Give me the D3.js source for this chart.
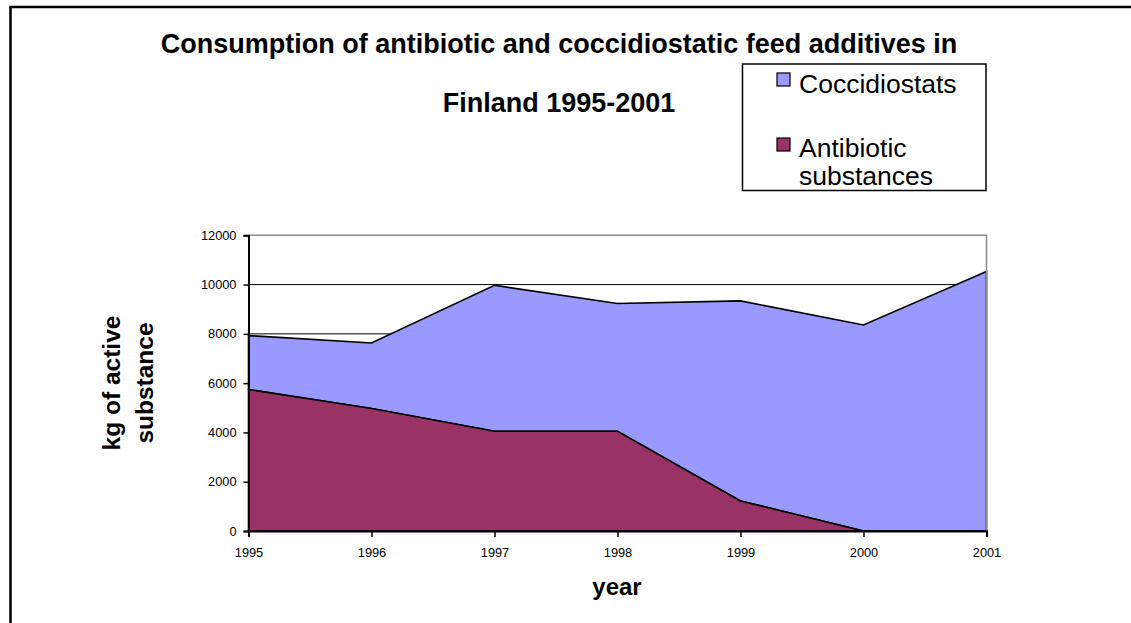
<!DOCTYPE html>
<html>
<head>
<meta charset="utf-8">
<script src="https://cdn.jsdelivr.net/npm/d3@7"></script>
<style>
  html, body { margin: 0; padding: 0; background: #fff; }
  svg { display: block; font-family: "Liberation Sans", Arial, sans-serif; }
</style>
</head>
<body>
<svg id="chart" width="1131" height="623"></svg>
<script>
// Feed additive consumption in Finland, kg of active substance
const years = [1995, 1996, 1997, 1998, 1999, 2000, 2001];
const antibiotic = [5740, 4970, 4050, 4050, 1220, 0, 0];
const coccidiostats = [2190, 2660, 5920, 5180, 8120, 8360, 10530];
const yTicks = [0, 2000, 4000, 6000, 8000, 10000, 12000];
const seriesNames = ["Coccidiostats", "Antibiotic substances"];
const seriesColors = { antibiotic: "#993366", coccidiostats: "#9999ff" };

const svg = d3.select("#chart");

// outer chart frame
svg.append("rect")
  .attr("x", 10.5).attr("y", 7).attr("width", 1200).attr("height", 700)
  .attr("fill", "none").attr("stroke", "#000").attr("stroke-width", 2.5);

const plot = { left: 248.5, right: 986.5, top: 235.3, bottom: 531 };

const x = d3.scaleLinear().domain([years[0], years[years.length - 1]]).range([plot.left, plot.right]);
const y = d3.scaleLinear().domain([0, 12000]).range([plot.bottom, plot.top]);

// gridlines
svg.append("g")
  .selectAll("line")
  .data(yTicks.filter(t => t > 0 && t < 12000))
  .join("line")
  .attr("x1", plot.left).attr("x2", plot.right)
  .attr("y1", d => y(d)).attr("y2", d => y(d))
  .attr("stroke", "#000").attr("stroke-width", 1);

// stacked areas
const rows = years.map((yr, i) => ({ year: yr, antibiotic: antibiotic[i], coccidiostats: coccidiostats[i] }));
const stack = d3.stack().keys(["antibiotic", "coccidiostats"]);
const layers = stack(rows);

const area = d3.area()
  .x(d => x(d.data.year))
  .y0(d => y(d[0]))
  .y1(d => y(d[1]));

// upper layer first so the lower one's outline sits on top
svg.append("g")
  .selectAll("path")
  .data(layers.slice().reverse())
  .join("path")
  .attr("d", area)
  .attr("fill", d => seriesColors[d.key])
  .attr("stroke", "#000")
  .attr("stroke-width", 1.6)
  .attr("stroke-linejoin", "miter");

// plot area border (top and right)
svg.append("path")
  .attr("d", `M${plot.left},${plot.top}H${plot.right}V${plot.bottom}`)
  .attr("fill", "none").attr("stroke", "#8c8c8c").attr("stroke-width", 1.5);

// y axis
const yAxis = d3.axisLeft(y).tickValues(yTicks).tickSize(5).tickPadding(7).tickFormat(d3.format("d"));
const gy = svg.append("g").attr("transform", `translate(${plot.left},0)`).call(yAxis);
gy.select(".domain").attr("stroke", "#000").attr("stroke-width", 2);
gy.selectAll(".tick line").attr("stroke", "#000").attr("stroke-width", 1.5);
gy.selectAll("text").attr("font-size", 12.8).attr("font-family", "Liberation Sans, Arial, sans-serif").attr("fill", "#000");

// x axis
const xAxis = d3.axisBottom(x).tickValues(years).tickSize(6).tickPadding(11).tickFormat(d3.format("d"));
const gx = svg.append("g").attr("transform", `translate(0,${plot.bottom})`).call(xAxis);
gx.select(".domain").attr("stroke", "#000").attr("stroke-width", 2);
gx.selectAll(".tick line").attr("stroke", "#000").attr("stroke-width", 1.5);
gx.selectAll("text").attr("font-size", 12.8).attr("font-family", "Liberation Sans, Arial, sans-serif").attr("fill", "#000");

// title
const title = svg.append("text")
  .attr("text-anchor", "middle").attr("font-weight", "bold").attr("font-size", 27);
title.append("tspan").attr("x", 559).attr("y", 53).text("Consumption of antibiotic and coccidiostatic feed additives in");
title.append("tspan").attr("x", 559).attr("y", 112).text("Finland 1995-2001");

// axis titles
svg.append("text")
  .attr("x", 617).attr("y", 595)
  .attr("text-anchor", "middle").attr("font-weight", "bold").attr("font-size", 24)
  .text("year");

const yTitle = svg.append("text")
  .attr("transform", "translate(0,383) rotate(-90)")
  .attr("text-anchor", "middle").attr("font-weight", "bold").attr("font-size", 24.5);
yTitle.append("tspan").attr("x", 0).attr("y", 120).text("kg of active");
yTitle.append("tspan").attr("x", 0).attr("y", 153).text("substance");

// legend
const legend = svg.append("g");
legend.append("rect")
  .attr("x", 742.5).attr("y", 64).attr("width", 243.5).attr("height", 126.5)
  .attr("fill", "#fff").attr("stroke", "#000").attr("stroke-width", 1.5);

const legendItems = [
  { name: seriesNames[0], color: seriesColors.coccidiostats, sy: 73, lines: ["Coccidiostats"], by: 93 },
  { name: seriesNames[1], color: seriesColors.antibiotic, sy: 138, lines: ["Antibiotic", "substances"], by: 157 }
];
legendItems.forEach(it => {
  legend.append("rect")
    .attr("x", 777).attr("y", it.sy).attr("width", 13).attr("height", 13)
    .attr("fill", it.color).attr("stroke", "#000").attr("stroke-width", 1.2);
  const t = legend.append("text").attr("font-size", 26.5).attr("fill", "#000");
  it.lines.forEach((ln, k) => {
    t.append("tspan").attr("x", 799).attr("y", it.by + k * 27.5).text(ln);
  });
});
</script>
</body>
</html>
